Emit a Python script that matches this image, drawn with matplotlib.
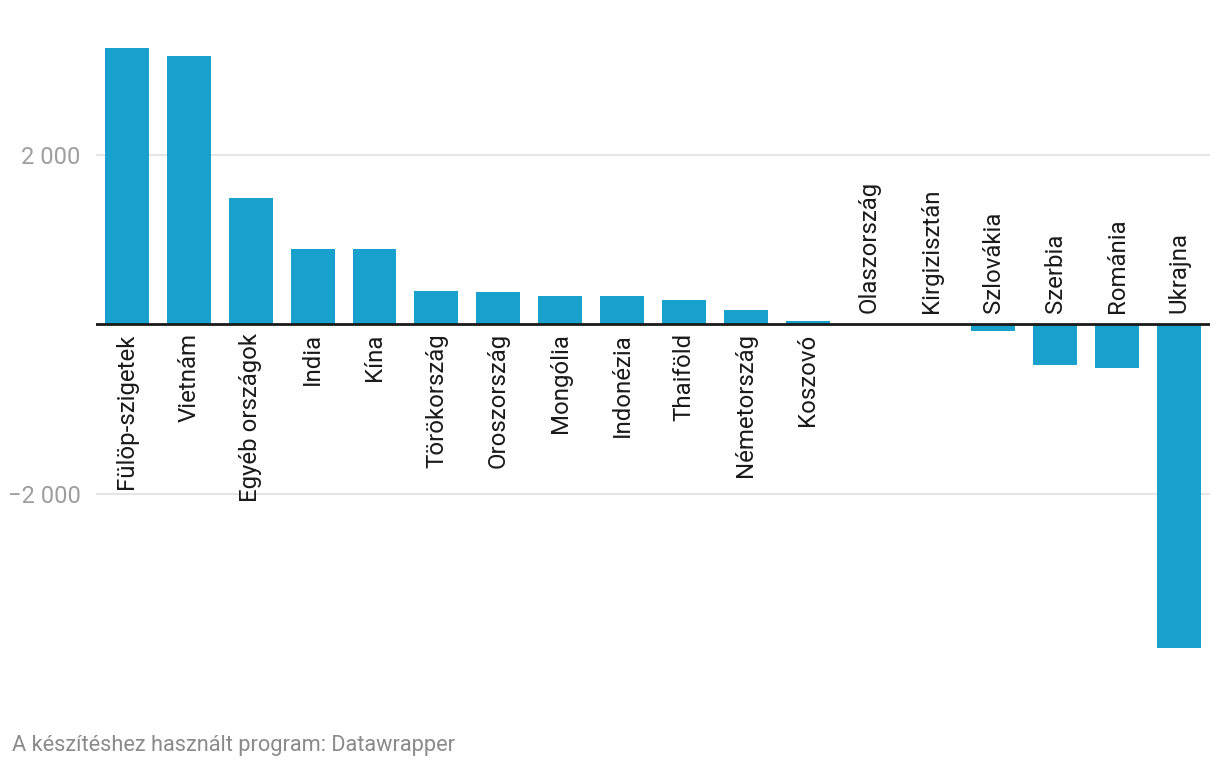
import matplotlib
matplotlib.use("Agg")
import matplotlib.pyplot as plt

plt.rcParams['font.family'] = ['Roboto', 'DejaVu Sans']

categories = ["Fülöp-szigetek", "Vietnám", "Egyéb országok", "India", "Kína",
              "Törökország", "Oroszország", "Mongólia", "Indonézia", "Thaiföld",
              "Németország", "Koszovó", "Olaszország", "Kirgizisztán", "Szlovákia",
              "Szerbia", "Románia", "Ukrajna"]
values = [3257, 3162, 1487, 885, 885, 389, 378, 330, 330, 287,
          169, 39, 0, 0, -76, -476, -512, -3814]
ytick_vals = [2000, -2000]
ytick_labels = ["2 000", "\u22122 000"]
footer = "A készítéshez használt program: Datawrapper"

W, H = 1220, 768
fig = plt.figure(figsize=(W / 100, H / 100), dpi=100)
# axes placement in pixels
ax_left, ax_right = 96, 1210
ax_top, ax_bottom = 40, 680
zero_px, px_per_2000 = 324.3, 169.6
ymax = (zero_px - ax_top) / px_per_2000 * 2000
ymin = -(ax_bottom - zero_px) / px_per_2000 * 2000
ax = fig.add_axes([ax_left / W, 1 - ax_bottom / H, (ax_right - ax_left) / W, (ax_bottom - ax_top) / H])

x = list(range(len(categories)))
ax.bar(x, values, width=0.71, color="#18a1cd", zorder=2)
ax.set_xlim(-0.5, len(categories) - 0.5)
ax.set_ylim(ymin, ymax)

for yv in ytick_vals:
    ax.axhline(yv, color="#e5e5e5", lw=1.5, zorder=1)
ax.axhline(0, color="#1a1a1a", lw=2, zorder=3)

ax.set_yticks(ytick_vals)
ax.set_yticklabels(ytick_labels, fontsize=17, color="#9e9e9e")
ax.tick_params(axis='y', length=0, pad=11)
ax.set_xticks([])
for s in ax.spines.values():
    s.set_visible(False)

for xi, (cat, v) in enumerate(zip(categories, values)):
    if v > 0:
        ax.annotate(cat, (xi, 0), xytext=(0, -6.5), textcoords="offset points",
                    rotation=90, ha="center", va="top", fontsize=17.3, color="#1a1a1a")
    else:
        ax.annotate(cat, (xi, 0), xytext=(0, 8), textcoords="offset points",
                    rotation=90, ha="center", va="bottom", fontsize=17.3, color="#1a1a1a")

fig.text(12 / W, 1 - 745 / H, footer, fontsize=15.7, color="#8a8a8a", ha="left", va="center")

fig.savefig("out.png", dpi=100)
